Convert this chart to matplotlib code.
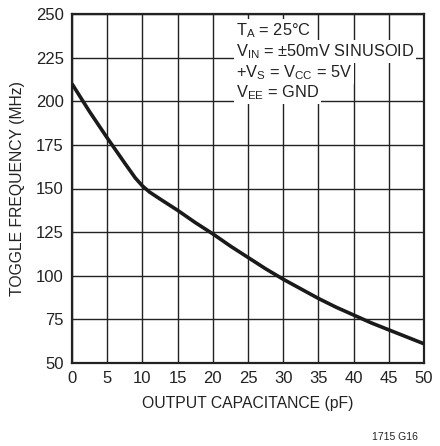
import matplotlib
matplotlib.use("Agg")
import matplotlib.pyplot as plt

# data
cap_pf = [0, 2.5, 5, 7.5, 9, 10, 11, 12.5, 15, 17.5, 20, 22.5, 25, 27.5, 30, 32.5, 35, 37.5, 40, 42.5, 45, 47.5, 50]
freq_mhz = [210, 194, 179, 164.5, 156, 151.5, 148, 144, 137.5, 130.5, 124, 117, 110.5, 104, 98, 92.5, 87, 82, 77.5, 73, 69, 65, 61]

x_ticks = list(range(0, 51, 5))
y_ticks = list(range(50, 251, 25))

conditions = [r"T$_\mathregular{A}$ = 25°C",
              r"V$_\mathregular{IN}$ = ±50mV SINUSOID",
              r"+V$_\mathregular{S}$ = V$_\mathregular{CC}$ = 5V",
              r"V$_\mathregular{EE}$ = GND"]
cond_y = [240.5, 228.5, 216.5, 205]

plt.rcParams['font.family'] = ['Liberation Sans Narrow', 'Liberation Sans', 'DejaVu Sans']
plt.rcParams['mathtext.fontset'] = 'custom'
plt.rcParams['mathtext.rm'] = 'Liberation Sans'

fig = plt.figure(figsize=(4.4, 4.46), dpi=100)
ax = fig.add_axes([72/440, 83/446, 352/440, 349/446])

ax.plot(cap_pf, freq_mhz, color="#1a1a1a", lw=2.6, solid_capstyle="butt", zorder=3)

ax.set_xlim(0, 50)
ax.set_ylim(50, 250)
ax.set_xticks(x_ticks)
ax.set_yticks(y_ticks)
ax.grid(True, color="#222222", lw=1.0)
ax.set_axisbelow(True)
ax.tick_params(length=0, labelsize=12, pad=6, colors="#222222")
for s in ax.spines.values():
    s.set_linewidth(1.6)
    s.set_color("#222222")

ax.set_xlabel("OUTPUT CAPACITANCE (pF)", fontsize=11.3, color="#222222", labelpad=7)
ax.set_ylabel("TOGGLE FREQUENCY (MHz)", fontsize=11.3, color="#222222", labelpad=8)

for txt, yv in zip(conditions, cond_y):
    ax.text(23.3, yv, txt, fontsize=11.8, color="#222222", va="center", ha="left", zorder=4,
            bbox=dict(facecolor="white", edgecolor="none", pad=1.5))

fig.text(395/440, 1 - 437/446, "1715 G16", fontsize=7.5, ha="center", va="center", color="#222222")

fig.savefig("out.png", dpi=100)
